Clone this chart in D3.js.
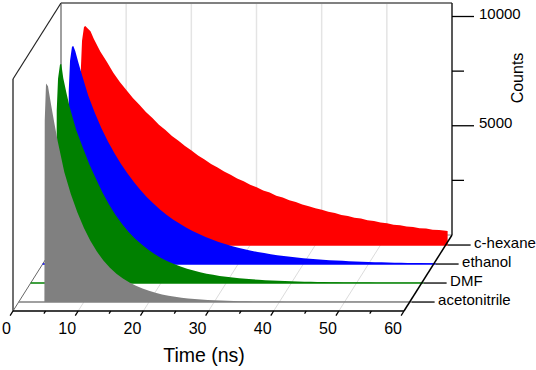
<!DOCTYPE html>
<html>
<head>
<meta charset="utf-8">
<script src="https://cdn.jsdelivr.net/npm/d3@7/dist/d3.min.js"></script>
<style>
  html, body { margin: 0; padding: 0; background: #fff; }
  text { font-family: "Liberation Sans", Arial, sans-serif; fill: #000; }
</style>
</head>
<body>
<svg id="chart" width="536" height="370"></svg>
<script>
// decay curves, all series share the same time samples
const times = [3.95, 4, 4.2, 4.5, 4.7, 5, 5.5, 6,
  7, 8, 9, 10, 11, 12, 13, 14, 15, 16, 17, 18, 19, 20, 21, 22, 23, 24, 25, 26, 27, 28, 29, 30, 31, 32,
  33, 34, 35, 36, 37, 38, 39, 40, 41, 42, 43, 44, 45, 46, 47, 48, 49, 50, 51, 52, 53, 54, 55, 56, 57, 58, 59, 60, 60.3];
const hexaneCounts = [0, 7900, 9350, 9980, 10020, 9930, 9780, 9440,
  8860, 8390, 7890, 7460, 7100, 6730, 6420, 6090, 5810, 5510, 5260, 4990, 4770, 4530, 4330, 4100, 3920, 3710, 3550, 3360, 3220, 3050, 2920, 2760, 2650, 2500,
  2400, 2260, 2170, 2050, 1970, 1850, 1780, 1680, 1620, 1520, 1470, 1380, 1330, 1250, 1210, 1130, 1100, 1030, 1000, 930, 910, 850, 830, 770, 755, 700, 690, 650, 640];
const ethanolCounts = [0, 7900, 9300, 9950, 9980, 9750, 9200, 8680,
  7700, 6920, 6230, 5620, 5080, 4590, 4150, 3750, 3390, 3060, 2770, 2500, 2260, 2040, 1850, 1670, 1510, 1370, 1240, 1120, 1010, 915, 830, 750, 680, 610,
  550, 500, 450, 405, 365, 330, 298, 268, 242, 218, 197, 178, 160, 145, 130, 118, 106, 96, 87, 78, 71, 64, 58, 52, 47, 42, 38, 35, 34];
const dmfCounts = [0, 7900, 9350, 10000, 10020, 9380, 8680, 8030,
  6990, 6200, 5440, 4780, 4150, 3600, 3120, 2710, 2350, 2040, 1770, 1530, 1330, 1150, 1000, 870, 755, 655, 570, 495, 430, 375, 325, 285, 250, 220,
  195, 170, 150, 132, 116, 102, 90, 80, 70, 62, 55, 48, 43, 38, 34, 30, 27, 24, 21, 19, 17, 15, 14, 13, 12, 11, 10, 10, 10];
const acetonitrileCounts = [0, 8300, 10000, 9880, 9520, 8980, 8150, 7350,
  5950, 4950, 4110, 3400, 2800, 2310, 1900, 1570, 1300, 1080, 895, 745, 620, 515, 425, 350, 290, 240, 200, 165, 135, 112, 93, 78, 65, 55,
  47, 40, 35, 30, 27, 24, 22, 20, 18, 17, 16, 15, 14, 13, 12, 12, 11, 11, 10, 10, 9, 9, 9, 8, 8, 8, 8, 8, 8];

// back to front, so the nearer curves paint over the farther ones
const solvents = ["c-hexane", "ethanol", "DMF", "acetonitrile"];
const seriesCounts = [hexaneCounts, ethanolCounts, dmfCounts, acetonitrileCounts];
const seriesColors = ["#ff0000", "#0000ff", "#008000", "#808080"];

const xTicks = [0, 5, 10, 15, 20, 25, 30, 35, 40, 45, 50, 55, 60];
const xLabels = [0, 10, 20, 30, 40, 50, 60];
const yTicks = [2500, 5000, 7500, 10000];
const yLabels = [5000, 10000];
const boxTopCount = 10620; // the box is a little taller than the top tick

const svg = d3.select("#chart");

// oblique box: time runs along the front, depth goes up and to the right
const xScale = d3.scaleLinear().domain([0, 60]).range([13, 404]);
const yScale = d3.scaleLinear().domain([0, 10000]).range([311, 92.5]);
const depthScale = d3.scalePoint().domain(solvents.slice().reverse()).range([0.118, 0.868]);
const depthX = 48;
const depthY = -76;

const px = (t, z) => xScale(t) + depthX * z;
const py = (c, z) => yScale(c) + depthY * z;

function edge(parent, t1, c1, z1, t2, c2, z2, color, width) {
  parent.append("line")
    .attr("x1", px(t1, z1)).attr("y1", py(c1, z1))
    .attr("x2", px(t2, z2)).attr("y2", py(c2, z2))
    .attr("stroke", color).attr("stroke-width", width);
}

// walls and floor
const wall = svg.append("g");
xLabels.slice(1, -1).forEach((t) => {
  edge(wall, t, 0, 1, t, boxTopCount, 1, "#e4e4e4", 1.5);
  edge(wall, t, 0, 0, t, 0, 1, "#dcdcdc", 1);
});
edge(wall, 0, 0, 0, 0, 0, 1, "#666", 1);
edge(wall, 0, 0, 1, 60, 0, 1, "#888", 1);
edge(wall, 0, 0, 1, 0, boxTopCount, 1, "#808080", 1.5);
edge(wall, 0, boxTopCount, 1, 60, boxTopCount, 1, "#808080", 2);
edge(wall, 0, 0, 0, 0, boxTopCount, 0, "#707070", 2);
edge(wall, 0, boxTopCount, 0, 0, boxTopCount, 1, "#222", 1.2);

// curves, each one an area standing on its own baseline
solvents.forEach((name, i) => {
  const z = depthScale(name);
  const rows = times.map((t, j) => ({ t: t, c: seriesCounts[i][j] }));
  const area = d3.area()
    .x((d) => px(d.t, z))
    .y0(py(0, z))
    .y1((d) => py(d.c, z));

  // baseline runs over the full time range
  edge(svg, 0, 0, z, 60.3, 0, z, seriesColors[i], 1.5);

  svg.append("path")
    .datum(rows)
    .attr("d", area)
    .attr("fill", seriesColors[i]);
});

// time axis
const axis = svg.append("g");
edge(axis, 0, 0, 0, 60, 0, 0, "#000", 1.5);
xTicks.forEach((t) => {
  const len = xLabels.includes(t) ? 0.06 : 0.035;
  edge(axis, t, 0, 0, t, 0, -len, "#000", 1.3);
});
xLabels.forEach((t) => {
  axis.append("text")
    .attr("x", xScale(t) - 2).attr("y", 334)
    .attr("text-anchor", "end").attr("font-size", 16)
    .text(t);
});
axis.append("text")
  .attr("x", 204).attr("y", 362)
  .attr("text-anchor", "middle").attr("font-size", 19.5)
  .text("Time (ns)");

// depth axis with the solvent names
edge(axis, 60, 0, 0, 60, 0, 1, "#000", 1.5);
solvents.forEach((name) => {
  const z = depthScale(name);
  axis.append("line")
    .attr("x1", px(60.3, z)).attr("x2", px(60.3, z) + 23)
    .attr("y1", py(0, z)).attr("y2", py(0, z))
    .attr("stroke", "#000").attr("stroke-width", 1.3);
  axis.append("text")
    .attr("x", px(60.3, z) + 26.5).attr("y", py(0, z) + 3)
    .attr("font-size", 15)
    .text(name);
});

// counts axis on the back right edge
edge(axis, 60, 0, 1, 60, boxTopCount, 1, "#222", 1.5);
yTicks.forEach((c) => {
  const major = yLabels.includes(c);
  axis.append("line")
    .attr("x1", px(60, 1)).attr("x2", px(60, 1) + (major ? 22 : 12))
    .attr("y1", py(c, 1)).attr("y2", py(c, 1))
    .attr("stroke", "#000").attr("stroke-width", 1.3);
});
yLabels.forEach((c) => {
  axis.append("text")
    .attr("x", px(60, 1) + 27).attr("y", py(c, 1) + 2)
    .attr("font-size", 15)
    .text(c);
});
axis.append("text")
  .attr("transform", "translate(523,78) rotate(-90)")
  .attr("text-anchor", "middle").attr("font-size", 16)
  .text("Counts");
</script>
</body>
</html>
